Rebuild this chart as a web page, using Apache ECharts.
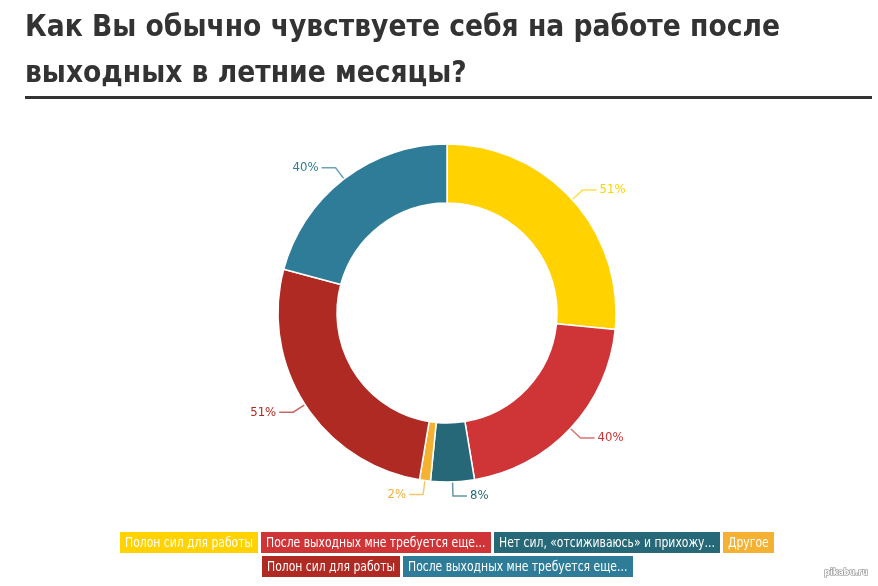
<!DOCTYPE html>
<html>
<head>
<meta charset="utf-8">
<script src="https://cdn.jsdelivr.net/npm/echarts@6/dist/echarts.min.js"></script>
<style>html,body{margin:0;padding:0;background:#fff;}#c{width:878px;height:586px;}</style>
</head>
<body>
<div id="c"></div>
<script>
var titleLines = ['Как Вы обычно чувствуете себя на работе после', 'выходных в летние месяцы?'];
var categories = ['Полон сил для работы', 'После выходных мне требуется еще...', 'Нет сил, «отсиживаюсь» и прихожу...', 'Другое', 'Полон сил для работы', 'После выходных мне требуется еще...'];
var values = [51, 40, 8, 2, 51, 40];
var colors = ['#FFD200', '#CF3537', '#276878', '#F4B132', '#AF2A22', '#2F7C99'];
var watermark = 'pikabu.ru';

var FONT = '"DejaVu Sans Condensed", "Open Sans", sans-serif';
var chart = echarts.init(document.getElementById('c'), null, {renderer: 'canvas'});

var ctx = document.createElement('canvas').getContext('2d');
var graphics = [];

// title
var titleFont = 'bold 31px ' + FONT;
ctx.font = titleFont;
var tScale = 755 / ctx.measureText(titleLines[0]).width;
titleLines.forEach(function (line, i) {
  graphics.push({type: 'text', x: 25, y: 12 + i * 46, scaleX: tScale, style: {text: line, fill: '#333', font: titleFont, verticalAlign: 'top'}, silent: true});
});
graphics.push({type: 'line', shape: {x1: 25, y1: 97.5, x2: 872, y2: 97.5}, style: {stroke: '#333', lineWidth: 3}, silent: true});

// legend layout
var legFont = '14px ' + FONT;
ctx.font = legFont;
var lScale = 128 / ctx.measureText(categories[0]).width;
var padX = 5, itemH = 21, gap = 3, maxRow = 700, cx = 447;
var rows = [[]], rowW = [0];
categories.forEach(function (name, i) {
  var w = Math.ceil(ctx.measureText(name).width * lScale) + padX * 2;
  var r = rows.length - 1;
  var nw = rowW[r] + (rows[r].length ? gap : 0) + w;
  if (rows[r].length && nw > maxRow) { rows.push([]); rowW.push(0); r++; nw = w; }
  rows[r].push({i: i, w: w});
  rowW[r] = nw;
});
rows.forEach(function (row, ri) {
  var x = Math.round(cx - rowW[ri] / 2);
  var y = 532 + ri * 24;
  row.forEach(function (it) {
    graphics.push({type: 'rect', x: x, y: y, shape: {width: it.w, height: itemH}, style: {fill: colors[it.i]}, silent: true});
    graphics.push({type: 'text', x: x + padX, y: y + itemH / 2 + 0.5, scaleX: lScale, style: {text: categories[it.i], fill: '#fff', font: legFont, verticalAlign: 'middle'}, silent: true});
    x += it.w + gap;
  });
});
graphics.push({type: 'text', x: 868, y: 573, style: {text: watermark, fill: '#fff', stroke: '#888', lineWidth: 1.2, font: 'bold 9px "DejaVu Sans Condensed", sans-serif', align: 'right', verticalAlign: 'middle'}, silent: true});

chart.setOption({
  backgroundColor: '#fff',
  animation: false,
  graphic: graphics,
  series: [{
    type: 'pie',
    center: [447, 313],
    radius: [110, 169],
    startAngle: 90,
    avoidLabelOverlap: false,
    itemStyle: {borderColor: '#fff', borderWidth: 1.5},
    label: {show: true, position: 'outside', formatter: '{c}%', fontFamily: FONT, fontSize: 13, distanceToLabelLine: 3},
    labelLine: {show: true, length: 14, length2: 14, lineStyle: {width: 1.5, opacity: 0.7}},
    data: values.map(function (v, i) {
      return {value: v, name: categories[i] + '\u200b'.repeat(i), itemStyle: {color: colors[i]}, label: {color: colors[i]}};
    })
  }]
});
</script>
</body>
</html>
